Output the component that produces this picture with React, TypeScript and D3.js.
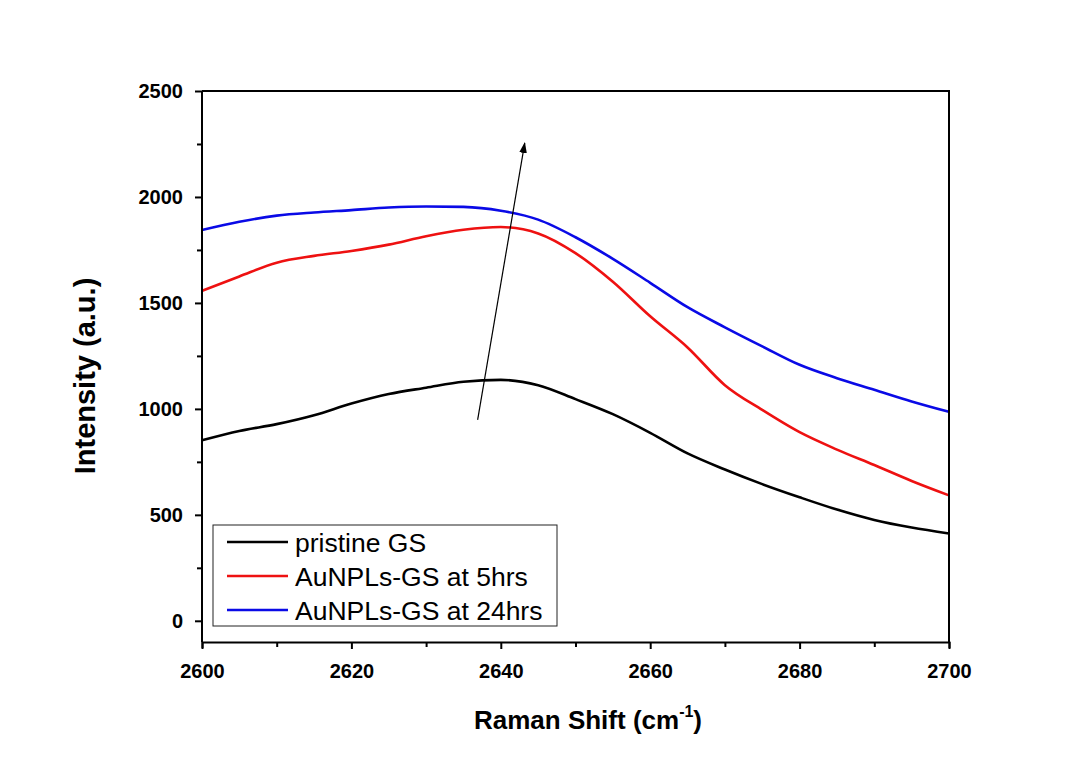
import { useEffect, useRef } from "react";
import * as d3 from "d3";

const ramanShift = [2600, 2605, 2610, 2615, 2620, 2625, 2630, 2635, 2640, 2645, 2650, 2655, 2660, 2665, 2670, 2675, 2680, 2685, 2690, 2695, 2700];
const pristineGS = [852, 896, 928, 970, 1025, 1070, 1100, 1128, 1137, 1112, 1046, 975, 887, 790, 714, 645, 583, 525, 476, 440, 412];
const au5hrs = [1557, 1625, 1690, 1722, 1745, 1775, 1815, 1845, 1858, 1828, 1735, 1600, 1437, 1290, 1112, 995, 890, 808, 735, 660, 592];
const au24hrs = [1844, 1883, 1912, 1927, 1938, 1950, 1955, 1953, 1935, 1893, 1810, 1708, 1595, 1480, 1385, 1295, 1208, 1145, 1090, 1035, 986];

const seriesNames = ["pristine GS", "AuNPLs-GS at 5hrs", "AuNPLs-GS at 24hrs"];
const seriesColors = ["#000000", "#ee1111", "#0a0ae6"];
const xTicks = [2600, 2620, 2640, 2660, 2680, 2700];
const yTicks = [0, 500, 1000, 1500, 2000, 2500];
// arrow annotation, data coordinates [x, y]
const arrowFrom = [2636.9, 948];
const arrowTo = [2643.2, 2254];

export default function App() {
  const ref = useRef<SVGSVGElement>(null);

  useEffect(() => {
    const W = 1085;
    const H = 760;
    const m = { left: 202, top: 91, right: 136, bottom: 118 };
    const svg = d3.select(ref.current);
    svg.selectAll("*").remove();

    const x = d3.scaleLinear().domain([2600, 2700]).range([m.left, W - m.right]);
    const y = d3.scaleLinear().domain([-100, 2500]).range([H - m.bottom, m.top]);
    const font = "'Liberation Sans', Arial, sans-serif";

    svg.append("rect").attr("width", W).attr("height", H).attr("fill", "#fff");

    const series = [pristineGS, au5hrs, au24hrs];
    const line = d3
      .line<number>()
      .x((_, i) => x(ramanShift[i]))
      .y((d) => y(d))
      .curve(d3.curveMonotoneX);

    series.forEach((s, k) => {
      svg
        .append("path")
        .attr("d", line(s))
        .attr("fill", "none")
        .attr("stroke", seriesColors[k])
        .attr("stroke-width", 2.6);
    });

    // frame top/right
    svg
      .append("path")
      .attr("d", `M${x(2600)},${y(2500)}H${x(2700)}V${y(-100)}`)
      .attr("fill", "none")
      .attr("stroke", "#000")
      .attr("stroke-width", 2);

    // x axis
    const xAxis = svg
      .append("g")
      .attr("transform", `translate(0,${y(-100)})`)
      .call(
        d3.axisBottom(x).tickValues(d3.range(2600, 2701, 10)).tickSize(6).tickFormat((d) =>
          xTicks.includes(+d) ? String(d) : ""
        )
      );
    xAxis.select(".domain").attr("stroke-width", 2);
    xAxis.selectAll(".tick line").attr("stroke-width", 2).attr("y2", (d: any) => (xTicks.includes(+d) ? 7 : 5));
    xAxis
      .selectAll("text")
      .attr("font-family", font)
      .attr("font-weight", "bold")
      .attr("font-size", 20)
      .attr("dy", 0)
      .attr("y", 36);

    // y axis
    const yAxis = svg
      .append("g")
      .attr("transform", `translate(${x(2600)},0)`)
      .call(
        d3.axisLeft(y).tickValues(d3.range(0, 2501, 250)).tickSize(6).tickFormat((d) =>
          yTicks.includes(+d) ? String(d) : ""
        )
      );
    yAxis.select(".domain").attr("stroke-width", 2).attr("d", `M0,${y(-100)}V${y(2500)}`);
    yAxis.selectAll(".tick line").attr("stroke-width", 2).attr("x2", (d: any) => (yTicks.includes(+d) ? -7 : -5));
    yAxis
      .selectAll("text")
      .attr("font-family", font)
      .attr("font-weight", "bold")
      .attr("font-size", 20)
      .attr("x", -19);

    // axis titles
    const xt = svg
      .append("text")
      .attr("x", 588)
      .attr("y", 729)
      .attr("text-anchor", "middle")
      .attr("font-family", font)
      .attr("font-weight", "bold")
      .attr("font-size", 26);
    xt.append("tspan").text("Raman Shift (cm");
    xt.append("tspan").text("-1").attr("font-size", 16).attr("dy", -12);
    xt.append("tspan").text(")").attr("dy", 12);

    svg
      .append("text")
      .attr("transform", `translate(95,376) rotate(-90)`)
      .attr("text-anchor", "middle")
      .attr("font-family", font)
      .attr("font-weight", "bold")
      .attr("font-size", 29)
      .text("Intensity (a.u.)");

    // arrow
    const defs = svg.append("defs");
    defs
      .append("marker")
      .attr("id", "arr")
      .attr("viewBox", "0 0 10 10")
      .attr("refX", 9)
      .attr("refY", 5)
      .attr("markerWidth", 11)
      .attr("markerHeight", 11)
      .attr("markerUnits", "userSpaceOnUse")
      .attr("orient", "auto")
      .append("path")
      .attr("d", "M0,1.5L10,5L0,8.5Z")
      .attr("fill", "#000");
    svg
      .append("line")
      .attr("x1", x(arrowFrom[0]))
      .attr("y1", y(arrowFrom[1]))
      .attr("x2", x(arrowTo[0]))
      .attr("y2", y(arrowTo[1]))
      .attr("stroke", "#000")
      .attr("stroke-width", 1.2)
      .attr("marker-end", "url(#arr)");

    // legend
    const lg = svg.append("g").attr("transform", "translate(213,525)");
    lg.append("rect")
      .attr("width", 344)
      .attr("height", 101)
      .attr("fill", "#fff")
      .attr("stroke", "#222")
      .attr("stroke-width", 1);
    seriesNames.forEach((name, i) => {
      const cy = 17 + i * 34;
      lg.append("line")
        .attr("x1", 14)
        .attr("x2", 75)
        .attr("y1", cy)
        .attr("y2", cy)
        .attr("stroke", seriesColors[i])
        .attr("stroke-width", 2.6);
      lg.append("text")
        .attr("x", 82)
        .attr("y", cy + 10)
        .attr("font-family", font)
        .attr("font-size", 26.5)
        .text(name);
    });
  }, []);

  return (
    <svg
      ref={ref}
      width={1085}
      height={760}
      style={{ position: "absolute", left: 0, top: 0, display: "block" }}
    />
  );
}
